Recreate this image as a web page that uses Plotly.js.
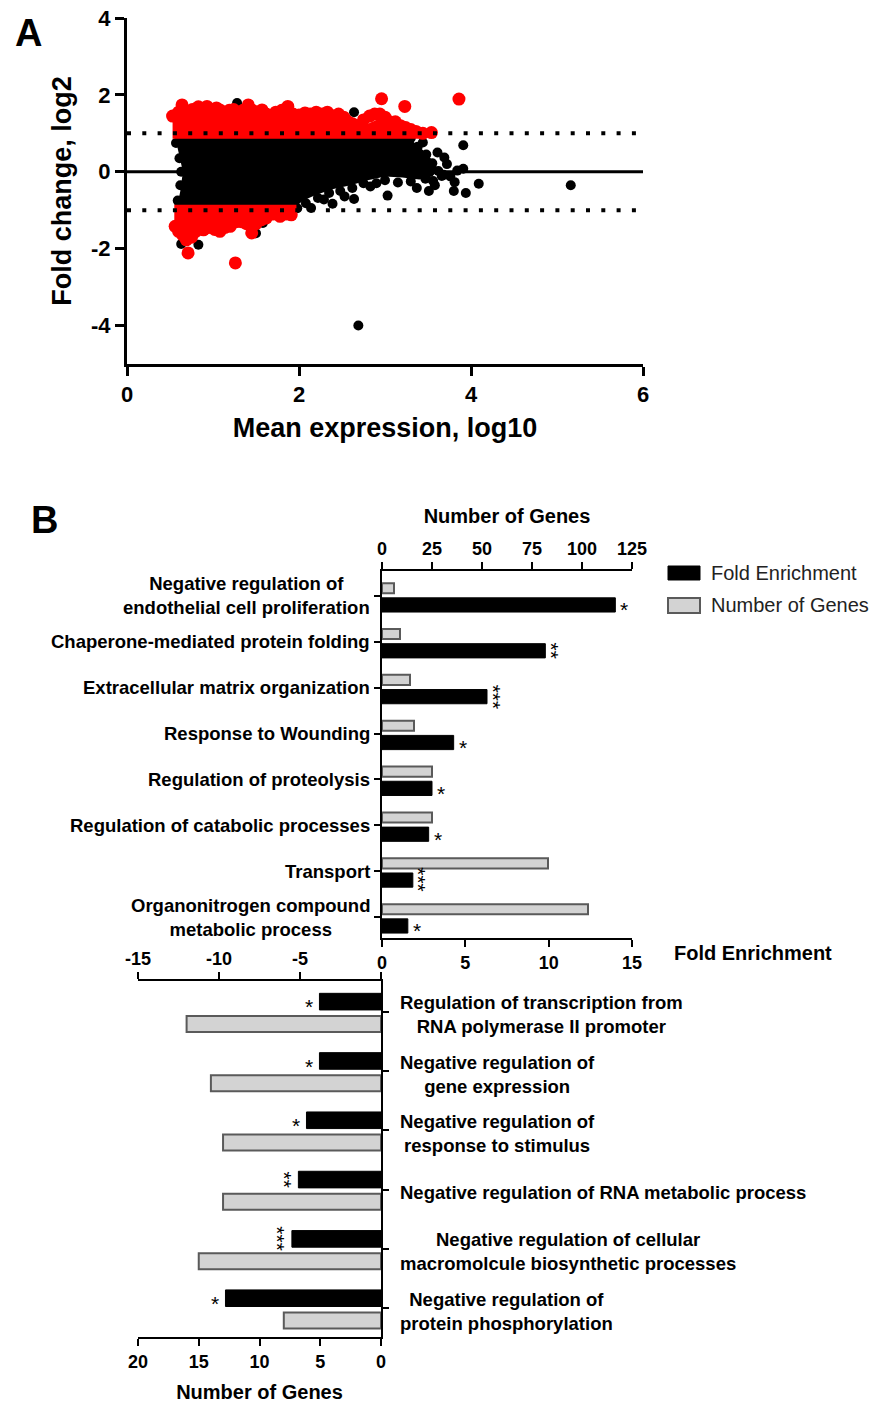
<!DOCTYPE html>
<html><head><meta charset="utf-8">
<script src="https://cdn.plot.ly/plotly-3.0.1.min.js"></script>
<style>html,body{margin:0;padding:0;background:#fff}#chart{width:875px;height:1408px}</style>
</head><body><div id="chart"></div>
<script>
// ---------- Panel A: MA plot ----------
// dense black cloud outline (mean expression log10, fold change log2)
const cloudX = [0.55,1.0,2.0,3.2,3.32,3.45,3.55,3.62,3.55,3.4,3.2,3.0,2.8,2.6,2.4,2.2,2.05,1.95,1.6,0.58,0.62,0.65,0.6,0.55];
const cloudY = [1.0,1.0,1.0,1.0,0.8,0.55,0.3,0.05,-0.12,-0.2,-0.15,-0.12,-0.22,-0.35,-0.45,-0.6,-0.75,-0.92,-0.95,-0.95,-0.5,0.0,0.5,1.0];
// dense red bands outline (up-regulated, null, down-regulated)
const redBandX = [0.53,0.53,0.64,0.9,1.1,1.4,1.6,1.9,2.2,2.5,2.6,2.75,2.95,3.1,3.3,3.45,3.45,null,
                  0.55,1.97,1.97,1.75,1.6,1.45,1.3,1.1,0.9,0.75,0.65,0.55];
const redBandY = [0.86,1.4,1.6,1.58,1.52,1.6,1.48,1.55,1.45,1.38,1.15,1.2,1.4,1.2,1.0,0.95,0.86,null,
                  -0.86,-0.86,-1.05,-1.08,-1.12,-1.3,-1.25,-1.42,-1.4,-1.58,-1.55,-1.35];
// individual black genes visible at the edges of the cloud and outliers
const blackX = [1.28,2.64,2.69,5.16,4.09,3.94,3.91,3.80,3.81,3.91,3.84,3.69,3.61,3.44,3.51,3.37,3.03,2.83,2.64,2.53,2.39,2.29,2.14,0.83,0.63,1.50,1.58,
                3.30,3.38,3.48,3.55,3.62,3.68,3.47,3.30,3.15,3.00,2.90,2.75,2.62,2.48,2.35,2.22,2.08,1.98,0.57,0.61,0.63,0.62,0.59,3.72,3.76,3.58,3.66,3.56];
const blackY = [1.79,1.55,-4.0,-0.35,-0.31,-0.55,0.69,-0.50,-0.27,0.08,0.03,0.37,0.50,0.76,-0.50,-0.42,-0.62,-0.38,-0.71,-0.64,-0.83,-0.72,-0.94,-1.90,-1.88,-1.60,-1.33,
                0.88,0.65,0.45,0.22,0.02,-0.08,-0.18,-0.25,-0.28,-0.22,-0.30,-0.30,-0.42,-0.50,-0.55,-0.68,-0.82,-0.95,0.75,0.35,0.0,-0.35,-0.75,0.20,-0.12,-0.35,-0.11,-0.24];
// individual red (significant) genes at the band edges and outliers
const redX = [0.53,0.60,0.64,0.70,0.76,0.83,0.88,0.93,0.99,1.04,1.08,1.14,1.19,1.24,1.30,1.35,1.41,1.46,1.52,1.57,1.62,1.68,1.73,1.80,1.87,1.93,2.00,2.07,2.13,2.20,2.27,2.33,2.40,2.46,2.52,2.57,2.62,2.68,2.75,2.82,2.88,2.94,3.00,3.05,3.12,3.18,3.24,3.30,3.36,3.44,3.54,2.96,3.23,3.86,
              0.56,0.60,0.65,0.69,0.75,0.80,0.89,0.95,1.02,1.08,1.14,1.20,1.27,1.33,1.39,1.45,1.50,1.56,1.62,1.70,1.78,1.85,1.91,0.71,1.26];
const redY = [1.45,1.55,1.74,1.58,1.62,1.69,1.60,1.70,1.62,1.66,1.61,1.55,1.60,1.62,1.55,1.60,1.74,1.60,1.55,1.61,1.50,1.45,1.55,1.60,1.70,1.50,1.48,1.53,1.50,1.55,1.50,1.55,1.45,1.50,1.42,1.30,1.25,1.20,1.35,1.45,1.50,1.50,1.42,1.30,1.30,1.20,1.15,1.10,1.05,1.00,1.02,1.90,1.70,1.89,
              -1.42,-1.55,-1.65,-1.77,-1.70,-1.55,-1.51,-1.45,-1.50,-1.55,-1.45,-1.42,-1.30,-1.30,-1.35,-1.59,-1.35,-1.25,-1.20,-1.10,-1.16,-1.10,-1.12,-2.11,-2.37];
const thresholds = [1, -1];
const aXTicks = [0, 2, 4, 6];
const aYTicks = [-4, -2, 0, 2, 4];
const aYTickText = ['-4', '-2', '0', '2', '4'];

// ---------- Panel B: GO enrichment ----------
const upTerms = ['Negative regulation of<br>endothelial cell proliferation','Chaperone-mediated protein folding','Extracellular matrix organization','Response to Wounding','Regulation of proteolysis','Regulation of catabolic processes','Transport','Organonitrogen compound<br>metabolic process'];
const upFold  = [14.0, 9.8, 6.3, 4.3, 3.0, 2.8, 1.85, 1.55];
const upGenes = [6, 9, 14, 16, 25, 25, 83, 103];
const upStars = ['*','**','***','*','*','*','***','*'];

const downTerms = ['Regulation of transcription from<br>RNA polymerase II promoter','Negative regulation of<br>gene expression','Negative regulation of<br>response to stimulus','Negative regulation of RNA metabolic process','Negative regulation of cellular<br>macromolcule biosynthetic processes','Negative regulation of<br>protein phosphorylation'];
const downFold  = [-3.8, -3.8, -4.6, -5.1, -5.5, -9.6];
const downGenes = [16, 14, 13, 13, 15, 8];
const downStars = ['*','*','*','**','***','*'];

const legendNames = ['Fold Enrichment','Number of Genes'];

// ---------- layout helpers ----------
const W = 875, H = 1408;
const px = v => v / W, py = v => 1 - v / H;
const FONT = 'Liberation Sans, Arial, Helvetica, sans-serif';
const GRAY = '#d3d3d3', GRAYLINE = '#5a5a5a';
const upIdx = upTerms.map((_, i) => i);
const downIdx = downTerms.map((_, i) => i);

const traces = [
  {type:'scatter', mode:'lines', x:cloudX, y:cloudY, fill:'toself', fillcolor:'#000', line:{width:0, color:'#000'}, xaxis:'x', yaxis:'y', hoverinfo:'skip'},
  {type:'scatter', mode:'markers', x:blackX, y:blackY, marker:{color:'#000', size:10, line:{width:0}}, xaxis:'x', yaxis:'y'},
  {type:'scatter', mode:'lines', x:redBandX, y:redBandY, fill:'toself', fillcolor:'#ff0000', line:{width:0, color:'#ff0000'}, connectgaps:false, xaxis:'x', yaxis:'y', hoverinfo:'skip'},
  {type:'scatter', mode:'markers', x:redX, y:redY, marker:{color:'#ff0000', size:13, line:{width:0}}, xaxis:'x', yaxis:'y'},
  // upper GO chart
  {type:'bar', orientation:'h', name:legendNames[1], x:upGenes, y:upIdx, xaxis:'x3', yaxis:'y2', width:0.22, offset:-0.28,
   marker:{color:GRAY, line:{color:GRAYLINE, width:2}}},
  {type:'bar', orientation:'h', name:legendNames[0], x:upFold, y:upIdx, xaxis:'x2', yaxis:'y2', width:0.31, offset:0.04,
   marker:{color:'#000', line:{color:'#000', width:1}}},
  // lower GO chart
  {type:'bar', orientation:'h', name:legendNames[0], x:downFold, y:downIdx, xaxis:'x4', yaxis:'y3', width:0.28, offset:-0.31,
   marker:{color:'#000', line:{color:'#000', width:1}}},
  {type:'bar', orientation:'h', name:legendNames[1], x:downGenes, y:downIdx, xaxis:'x5', yaxis:'y3', width:0.27, offset:0.07,
   marker:{color:GRAY, line:{color:GRAYLINE, width:2}}}
];

const axBase = {showline:true, linecolor:'#000', ticks:'outside', tickcolor:'#000', showgrid:false, zeroline:false, fixedrange:true};
const bTick = {size:18, weight:'bold', family:FONT, color:'#000'};

const layout = {
  width:W, height:H, margin:{l:0,r:0,t:0,b:0}, paper_bgcolor:'#fff', plot_bgcolor:'rgba(0,0,0,0)',
  showlegend:false, hovermode:false, barmode:'overlay',
  font:{family:FONT, color:'#000'},
  xaxis: Object.assign({}, axBase, {domain:[px(127), px(643)], range:[0,6], anchor:'y', tickvals:aXTicks,
          linewidth:3, ticklen:9, tickwidth:3, tickfont:{size:22, weight:'bold'},
          title:{text:'Mean expression, log10', font:{size:27, weight:'bold'}, standoff:12}}),
  yaxis: Object.assign({}, axBase, {domain:[py(364), py(18)], range:[-5,4], anchor:'x', tickvals:aYTicks, ticktext:aYTickText,
          linewidth:3, ticklen:9, tickwidth:3, tickfont:{size:22, weight:'bold'},
          title:{text:'Fold change, log2', font:{size:27, weight:'bold'}, standoff:12}}),
  xaxis2: Object.assign({}, axBase, {domain:[px(382), px(632)], range:[0,15], anchor:'y2', side:'bottom', tickvals:[0,5,10,15],
          linewidth:2, ticklen:7, tickwidth:2, tickfont:bTick}),
  xaxis3: Object.assign({}, axBase, {overlaying:'x2', range:[0,125], anchor:'y2', side:'top', tickvals:[0,25,50,75,100,125],
          linewidth:2, ticklen:7, tickwidth:2, tickfont:bTick,
          title:{text:'Number of Genes', font:{size:20, weight:'bold'}, standoff:10}}),
  yaxis2: Object.assign({}, axBase, {domain:[py(938), py(571)], range:[7.458,-0.545], anchor:'x2', tickvals:upIdx,
          showticklabels:false, linewidth:2, ticklen:6, tickwidth:2}),
  xaxis4: Object.assign({}, axBase, {domain:[px(138), px(381)], range:[-15,0], anchor:'y3', side:'top', tickvals:[-15,-10,-5,0],
          ticktext:['-15','-10','-5',''], linewidth:2, ticklen:7, tickwidth:2, tickfont:bTick}),
  xaxis5: Object.assign({}, axBase, {overlaying:'x4', range:[20,0], anchor:'y3', side:'bottom', tickvals:[0,5,10,15,20],
          linewidth:2, ticklen:7, tickwidth:2, tickfont:bTick,
          title:{text:'Number of Genes', font:{size:20, weight:'bold'}, standoff:14}}),
  yaxis3: Object.assign({}, axBase, {domain:[py(1337), py(981)], range:[5.484,-0.518], anchor:'x4', side:'right', tickvals:downIdx,
          showticklabels:false, linewidth:2, ticklen:6, tickwidth:2}),
  shapes: [],
  annotations: []
};

// threshold and zero lines in panel A
thresholds.forEach(t => layout.shapes.push({type:'line', xref:'x', yref:'y', x0:0, x1:6, y0:t, y1:t,
  line:{color:'#000', width:4, dash:'4px,11.3px'}}));
layout.shapes.push({type:'line', xref:'x', yref:'y', x0:0, x1:6, y0:0, y1:0, line:{color:'#000', width:3}});

// manual legend
layout.shapes.push({type:'rect', xref:'paper', yref:'paper', x0:px(668), x1:px(700), y0:py(580), y1:py(566),
  fillcolor:'#000', line:{color:'#000', width:1}});
layout.shapes.push({type:'rect', xref:'paper', yref:'paper', x0:px(668), x1:px(700), y0:py(613), y1:py(598),
  fillcolor:GRAY, line:{color:GRAYLINE, width:2}});
layout.annotations.push({text:legendNames[0], xref:'paper', yref:'paper', x:px(709), y:py(573), xanchor:'left', yanchor:'middle', showarrow:false, font:{size:20, color:'#222'}});
layout.annotations.push({text:legendNames[1], xref:'paper', yref:'paper', x:px(709), y:py(605), xanchor:'left', yanchor:'middle', showarrow:false, font:{size:20, color:'#222'}});

// panel letters and the side axis title
layout.annotations.push({text:'A', xref:'paper', yref:'paper', x:px(13), y:py(33), xanchor:'left', yanchor:'middle', showarrow:false, font:{size:38, weight:'bold'}});
layout.annotations.push({text:'B', xref:'paper', yref:'paper', x:px(29), y:py(520), xanchor:'left', yanchor:'middle', showarrow:false, font:{size:38, weight:'bold'}});
layout.annotations.push({text:'Fold Enrichment', xref:'paper', yref:'paper', x:px(672), y:py(953), xanchor:'left', yanchor:'middle', showarrow:false, font:{size:20, weight:'bold'}});

// category labels
upTerms.forEach((t, i) => layout.annotations.push({text:t, xref:'paper', yref:'y2', x:px(372), y:i, xanchor:'right', yanchor:'middle',
  align:'center', showarrow:false, font:{size:18.5, weight:'bold'}}));
downTerms.forEach((t, i) => layout.annotations.push({text:t, xref:'paper', yref:'y3', x:px(398), y:i + 0.05, xanchor:'left', yanchor:'middle',
  align:'center', showarrow:false, font:{size:18.5, weight:'bold'}}));

// significance stars
upStars.forEach((s, i) => {
  const rot = s.length > 1;
  layout.annotations.push({text:s, xref:'x2', yref:'y2', x:upFold[i], y:i + 0.195, xanchor:'center', yanchor:'middle',
    xshift: rot ? 6 : 9, yshift: rot ? 0 : -5, textangle: rot ? 90 : 0, showarrow:false, font:{size:21, color:'#000'}});
});
downStars.forEach((s, i) => {
  const rot = s.length > 1;
  layout.annotations.push({text:s, xref:'x4', yref:'y3', x:downFold[i], y:i - 0.165, xanchor:'center', yanchor:'middle',
    xshift: rot ? -14 : -10, yshift: rot ? 0 : -5, textangle: rot ? 90 : 0, showarrow:false, font:{size:21, color:'#000'}});
});

Plotly.newPlot('chart', traces, layout, {staticPlot:true, displayModeBar:false});
</script></body></html>
